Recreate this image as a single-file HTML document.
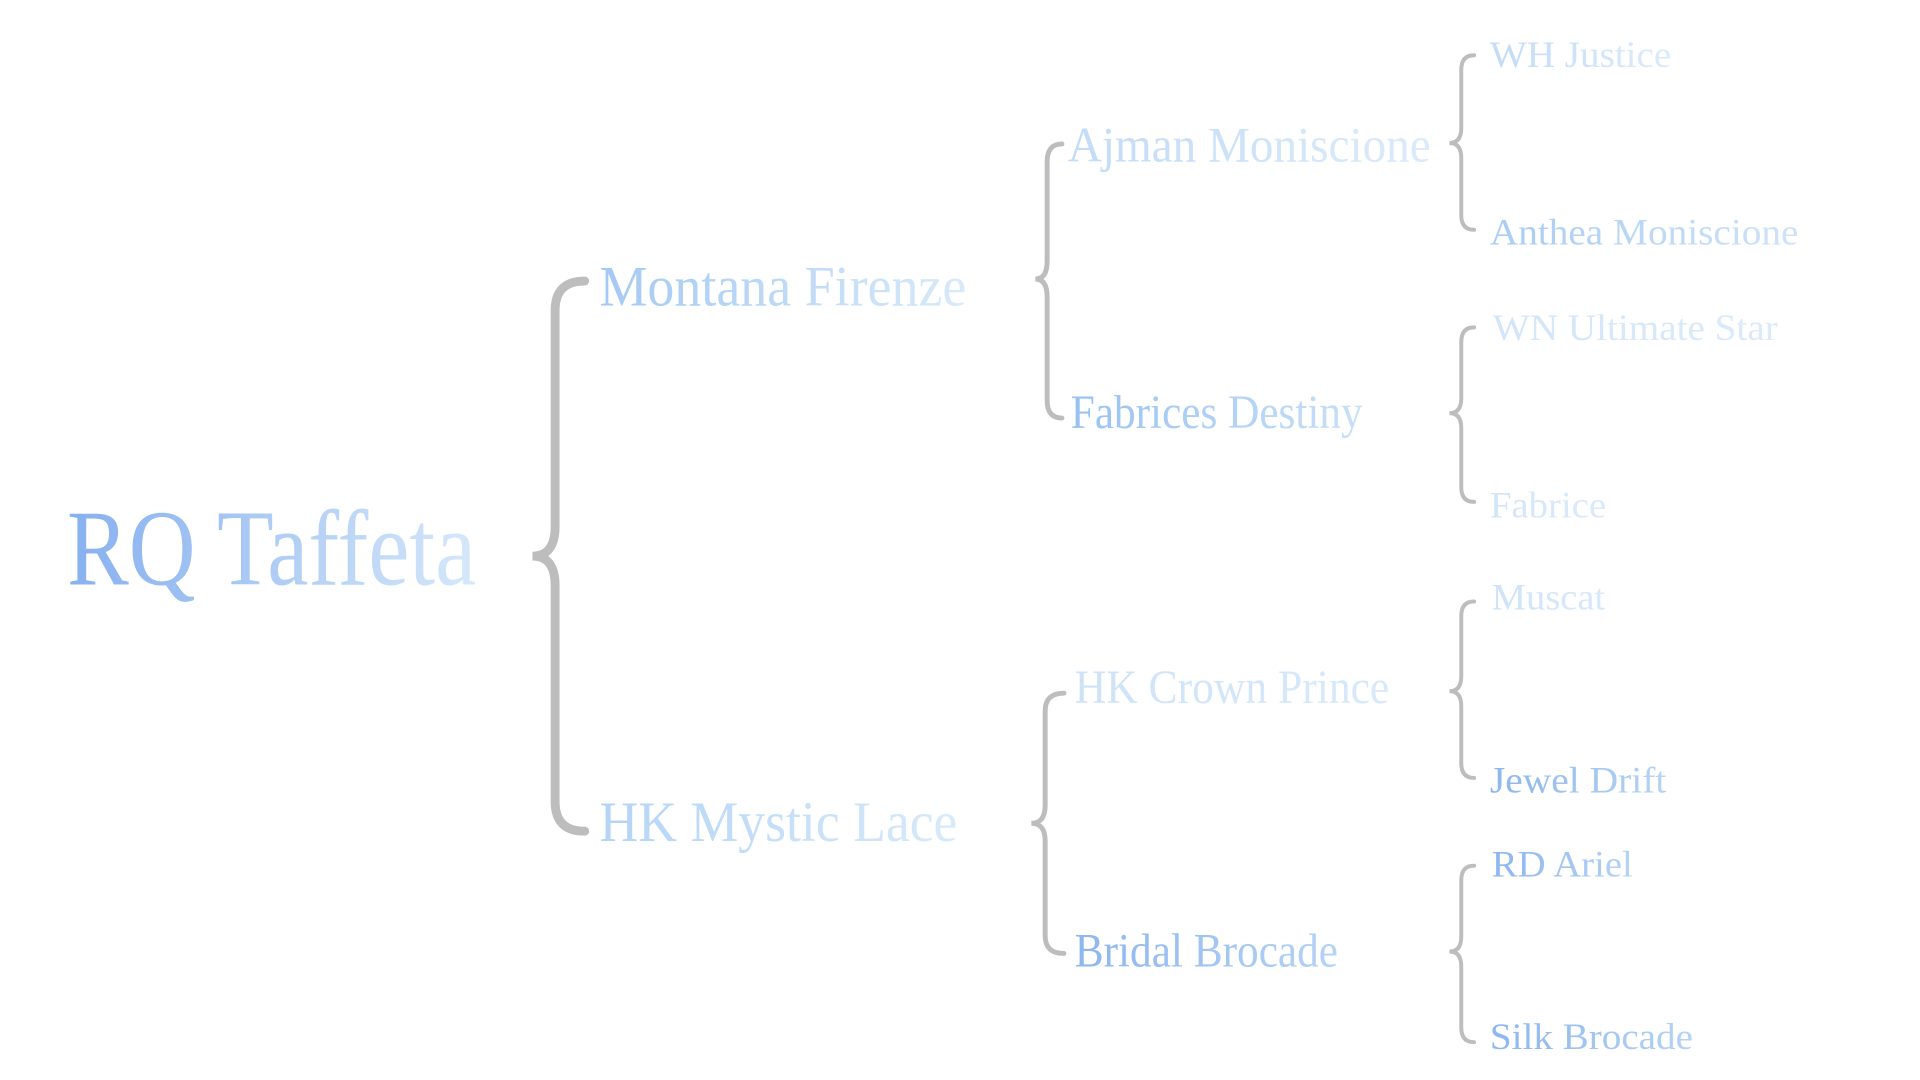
<!DOCTYPE html>
<html><head><meta charset="utf-8"><style>html,body{margin:0;padding:0;background:#fff;width:1920px;height:1080px;overflow:hidden}</style></head>
<body>
<svg width="1920" height="1080" viewBox="0 0 1920 1080" xmlns="http://www.w3.org/2000/svg" font-family="'Liberation Serif', serif">
<defs>
<linearGradient id="g1" x1="0" x2="1"><stop offset="0" stop-color="#86b0ef"/><stop offset="1" stop-color="#d6e8fa"/></linearGradient>
<linearGradient id="g2" x1="0" x2="1"><stop offset="0" stop-color="#a4c9f4"/><stop offset="1" stop-color="#d8eafa"/></linearGradient>
<linearGradient id="g3" x1="0" x2="1"><stop offset="0" stop-color="#c2dbf7"/><stop offset="1" stop-color="#dcebfa"/></linearGradient>
<linearGradient id="g4" x1="0" x2="1"><stop offset="0" stop-color="#98c2f2"/><stop offset="1" stop-color="#c8e0f8"/></linearGradient>
<linearGradient id="g5" x1="0" x2="1"><stop offset="0" stop-color="#b4d4f6"/><stop offset="1" stop-color="#d8eafa"/></linearGradient>
<linearGradient id="g6" x1="0" x2="1"><stop offset="0" stop-color="#cfe3f8"/><stop offset="1" stop-color="#d8e9fa"/></linearGradient>
<linearGradient id="g7" x1="0" x2="1"><stop offset="0" stop-color="#8cb6ef"/><stop offset="1" stop-color="#b6d3f5"/></linearGradient>
<linearGradient id="g8" x1="0" x2="1"><stop offset="0" stop-color="#d2e5f9"/><stop offset="1" stop-color="#dcebfa"/></linearGradient>
<linearGradient id="g9" x1="0" x2="1"><stop offset="0" stop-color="#a8ccf4"/><stop offset="1" stop-color="#cfe3f8"/></linearGradient>
</defs>
<g transform="scale(0.986)">
<g fill="none" stroke="#bdbdbd" stroke-linecap="round">
<path stroke-width="9" d="M593,285 Q563,285 563,315 L563,534 Q563,564 540,564 Q563,564 563,594 L563,813 Q563,843 593,843"/>
<path stroke-width="5" d="M1077,146 Q1062,146 1062,164 L1062,265 Q1062,283 1050,283 Q1062,283 1062,301 L1062,406 Q1062,424 1077,424"/>
<path stroke-width="5" d="M1079,703 Q1060,703 1060,721 L1060,817 Q1060,835 1046,835 Q1060,835 1060,853 L1060,949 Q1060,967 1079,967"/>
<path stroke-width="4" d="M1495,56 Q1482,56 1482,71 L1482,130 Q1482,145 1470,145 Q1482,145 1482,160 L1482,218 Q1482,233 1495,233"/>
<path stroke-width="4" d="M1495,332 Q1482,332 1482,347 L1482,404 Q1482,419 1470,419 Q1482,419 1482,434 L1482,494 Q1482,509 1495,509"/>
<path stroke-width="4" d="M1495,610 Q1482,610 1482,625 L1482,686 Q1482,701 1470,701 Q1482,701 1482,716 L1482,774 Q1482,789 1495,789"/>
<path stroke-width="4" d="M1495,878 Q1482,878 1482,893 L1482,950 Q1482,965 1470,965 Q1482,965 1482,980 L1482,1042 Q1482,1057 1495,1057"/>
</g>
<text x="68" y="593" font-size="110" fill="url(#g1)" textLength="415" lengthAdjust="spacingAndGlyphs">RQ Taffeta</text>
<text x="608" y="310" font-size="58" fill="url(#g2)" textLength="372" lengthAdjust="spacingAndGlyphs">Montana Firenze</text>
<text x="608" y="853" font-size="58" fill="url(#g5)" textLength="363" lengthAdjust="spacingAndGlyphs">HK Mystic Lace</text>
<text x="1083" y="164" font-size="50" fill="url(#g3)" textLength="368" lengthAdjust="spacingAndGlyphs">Ajman Moniscione</text>
<text x="1086" y="434" font-size="48" fill="url(#g4)" textLength="296" lengthAdjust="spacingAndGlyphs">Fabrices Destiny</text>
<text x="1090" y="713" font-size="48" fill="url(#g6)" textLength="319" lengthAdjust="spacingAndGlyphs">HK Crown Prince</text>
<text x="1090" y="980" font-size="48" fill="url(#g7)" textLength="267" lengthAdjust="spacingAndGlyphs">Bridal Brocade</text>
<text x="1511" y="68" font-size="38" fill="url(#g3)" textLength="184" lengthAdjust="spacingAndGlyphs">WH Justice</text>
<text x="1511" y="248" font-size="38" fill="url(#g9)" textLength="313" lengthAdjust="spacingAndGlyphs">Anthea Moniscione</text>
<text x="1514" y="345" font-size="38" fill="url(#g8)" textLength="289" lengthAdjust="spacingAndGlyphs">WN Ultimate Star</text>
<text x="1511" y="525" font-size="38" fill="url(#g8)" textLength="118" lengthAdjust="spacingAndGlyphs">Fabrice</text>
<text x="1513" y="618" font-size="38" fill="url(#g6)" textLength="115" lengthAdjust="spacingAndGlyphs">Muscat</text>
<text x="1511" y="804" font-size="38" fill="url(#g7)" textLength="179" lengthAdjust="spacingAndGlyphs">Jewel Drift</text>
<text x="1513" y="889" font-size="38" fill="url(#g7)" textLength="143" lengthAdjust="spacingAndGlyphs">RD Ariel</text>
<text x="1511" y="1064" font-size="38" fill="url(#g7)" textLength="206" lengthAdjust="spacingAndGlyphs">Silk Brocade</text>
</g>
</svg>
</body></html>
